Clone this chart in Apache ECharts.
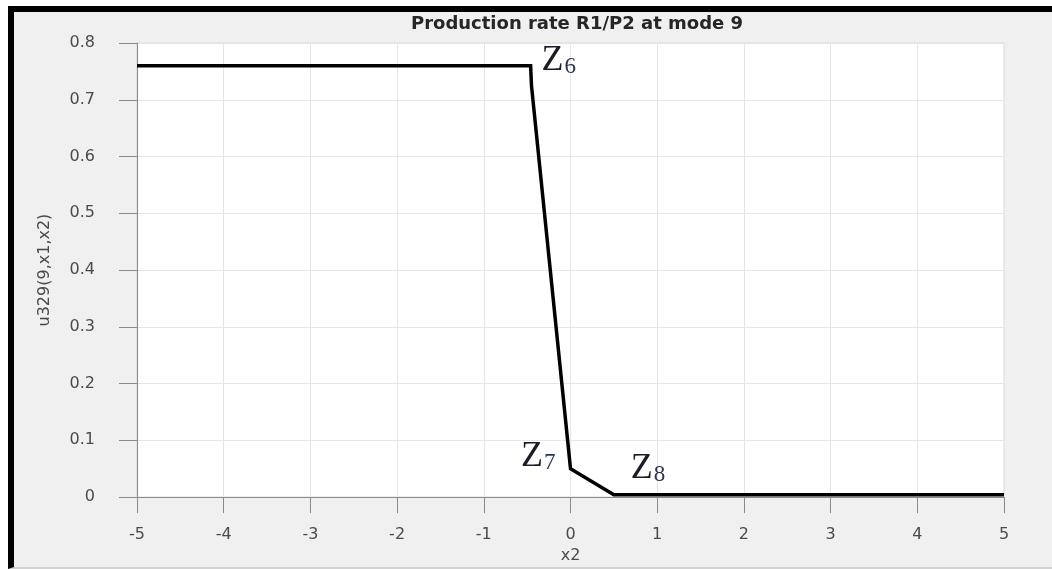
<!DOCTYPE html>
<html>
<head>
<meta charset="utf-8">
<script src="https://cdn.jsdelivr.net/npm/echarts@6/dist/echarts.min.js"></script>
<style>
  html, body { margin: 0; padding: 0; background: #ffffff; }
  #frame {
    position: absolute; left: 8px; top: 6px; width: 1038px; height: 555px;
    background: #f0f0f0;
    border-top: 6px solid #000; border-left: 6px solid #000;
    border-bottom: 2px solid #d2d2d2;
  }
  #chart { position: absolute; left: 0; top: 0; width: 1052px; height: 569px; }
</style>
</head>
<body>
<div id="frame"></div>
<div id="chart"></div>
<script>
// Production rate curve u329(9, x1, x2) over x2
const x2Values = [-5, -0.46, -0.45, 0, 0.5, 5];
const rateValues = [0.76, 0.76, 0.725, 0.05, 0.004, 0.004];
// Zone labels attached to curve vertices (index -> subscript)
const zoneLabels = { 1: '6', 3: '7', 4: '8' };
const xTicks = [-5, -4, -3, -2, -1, 0, 1, 2, 3, 4, 5];
const yTicks = [0, 0.1, 0.2, 0.3, 0.4, 0.5, 0.6, 0.7, 0.8];

const labelPlacement = {
  '6': { position: 'right', offset: [6, -5] },
  '7': { position: 'left', offset: [-10, -12] },
  '8': { position: 'right', offset: [12, -26] }
};

const points = x2Values.map((x, i) => {
  const p = { value: [x, rateValues[i]] };
  const sub = zoneLabels[i];
  if (sub) {
    p.label = Object.assign({
      show: true,
      formatter: '{z|Z}{s|' + sub + '}',
      rich: {
        z: { fontFamily: 'Liberation Serif', fontSize: 36, color: '#1c1c28' },
        s: { fontFamily: 'Liberation Serif', fontSize: 23, color: '#2a3550', padding: [12, 0, 0, 1] }
      }
    }, labelPlacement[sub]);
  }
  return p;
});

const axisFont = { fontFamily: 'DejaVu Sans', fontSize: 16, color: '#4a4a4a' };

const chart = echarts.init(document.getElementById('chart'), null, { renderer: 'canvas' });
chart.setOption({
  backgroundColor: 'transparent',
  animation: false,
  title: {
    text: 'Production rate R1/P2 at mode 9',
    left: 572, top: 10, textAlign: 'center',
    textStyle: { fontFamily: 'DejaVu Sans', fontWeight: 'bold', fontSize: 18, color: '#262626' }
  },
  grid: {
    left: 137, right: 48, top: 43, bottom: 69,
    show: true, backgroundColor: '#ffffff', borderColor: '#d8d8d8', borderWidth: 1
  },
  xAxis: {
    type: 'value', min: xTicks[0], max: xTicks[xTicks.length - 1], interval: 1,
    name: 'x2', nameLocation: 'middle', nameGap: 47,
    nameTextStyle: axisFont,
    axisLine: { show: true, onZero: false, lineStyle: { color: '#8a8a8a', width: 1 } },
    axisTick: { show: true, inside: false, length: 16, lineStyle: { color: '#8a8a8a' } },
    axisLabel: Object.assign({ margin: 30 }, axisFont),
    splitLine: { show: true, lineStyle: { color: '#e6e6e6', width: 1 } }
  },
  yAxis: {
    type: 'value', min: yTicks[0], max: yTicks[yTicks.length - 1], interval: 0.1,
    name: 'u329(9,x1,x2)', nameLocation: 'middle', nameGap: 84, nameRotate: 90,
    nameTextStyle: axisFont,
    axisLine: { show: true, onZero: false, lineStyle: { color: '#8a8a8a', width: 1 } },
    axisTick: { show: true, inside: false, length: 18, lineStyle: { color: '#8a8a8a' } },
    axisLabel: Object.assign({
      margin: 42,
      formatter: v => (Math.round(v * 10) / 10).toString()
    }, axisFont),
    splitLine: { show: true, lineStyle: { color: '#e6e6e6', width: 1 } }
  },
  series: [{
    type: 'line',
    data: points,
    showSymbol: true,
    showAllSymbol: true,
    symbol: 'circle',
    symbolSize: 0,
    lineStyle: { color: '#000000', width: 3.5, join: 'miter' },
    emphasis: { disabled: true },
    z: 5
  }]
});
</script>
</body>
</html>
